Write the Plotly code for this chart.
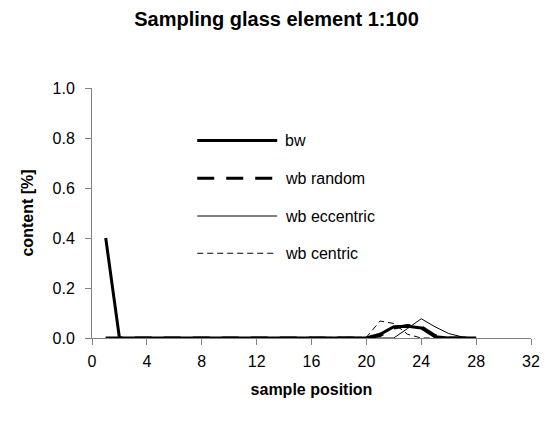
import plotly.graph_objects as go

# sample positions along the glass element
positions = list(range(1, 29))

bw = [0.4, 0.0, 0.0, 0.0, 0.0, 0.0, 0.0, 0.0, 0.0, 0.0,
      0.0, 0.0, 0.0, 0.0, 0.0, 0.0, 0.0, 0.0, 0.0, 0.0,
      0.015, 0.045, 0.047, 0.04, 0.005, 0.0, 0.0, 0.0]
wb_random = [0.0, 0.0, 0.0, 0.0, 0.0, 0.0, 0.0, 0.0, 0.0, 0.0,
             0.0, 0.0, 0.0, 0.0, 0.0, 0.0, 0.0, 0.0, 0.0, 0.0,
             0.01, 0.04, 0.05, 0.045, 0.01, 0.0, 0.0, 0.0]
wb_eccentric = [0.0, 0.0, 0.0, 0.0, 0.0, 0.0, 0.0, 0.0, 0.0, 0.0,
                0.0, 0.0, 0.0, 0.0, 0.0, 0.0, 0.0, 0.0, 0.0, 0.0,
                0.0, 0.0, 0.038, 0.077, 0.045, 0.018, 0.004, 0.0]
wb_centric = [0.0, 0.0, 0.0, 0.0, 0.0, 0.0, 0.0, 0.0, 0.0, 0.0,
              0.0, 0.0, 0.0, 0.0, 0.0, 0.0, 0.0, 0.0, 0.0, 0.003,
              0.068, 0.058, 0.015, 0.0, 0.0, 0.0, 0.0, 0.0]

series_names = ["bw", "wb random", "wb eccentric", "wb centric"]
series_values = [bw, wb_random, wb_eccentric, wb_centric]
series_styles = [
    dict(width=3, dash="solid"),
    dict(width=3, dash="17px,12px"),
    dict(width=1, dash="solid"),
    dict(width=1, dash="6px,4px"),
]

x_ticks = list(range(0, 33, 4))
y_ticks = [0.0, 0.2, 0.4, 0.6, 0.8, 1.0]

FONT = "Liberation Sans, Arial, sans-serif"

fig = go.Figure()
for name, vals, style in zip(series_names, series_values, series_styles):
    fig.add_trace(go.Scatter(
        x=positions, y=vals, name=name, mode="lines",
        line=dict(color="black", **style),
        showlegend=False,
    ))

# legend drawn inside the plot area with long line samples
legend_x0, legend_x1, legend_text_x = 7.67, 13.5, 13.9
legend_rows = [0.79, 0.639, 0.488, 0.339]
for name, style, yy in zip(series_names, series_styles, legend_rows):
    fig.add_shape(type="line", xref="x", yref="y",
                  x0=legend_x0, x1=legend_x1, y0=yy, y1=yy,
                  line=dict(color="black", **style))
    fig.add_annotation(x=legend_text_x, y=yy, xref="x", yref="y",
                       text=name, showarrow=False, xanchor="left",
                       yanchor="middle",
                       font=dict(family=FONT, size=16, color="black"))

fig.update_layout(
    width=553, height=423,
    margin=dict(l=91.5, r=22.4, t=88, b=85),
    paper_bgcolor="white", plot_bgcolor="white",
    title=dict(text="<b>Sampling glass element 1:100</b>",
               x=0.5, xanchor="center", y=1 - 19 / 423, yanchor="middle",
               font=dict(family=FONT, size=20, color="black")),
    font=dict(family=FONT, size=16, color="black"),
)
fig.update_xaxes(
    range=[0, 32], tickvals=x_ticks, ticktext=[str(t) for t in x_ticks],
    showgrid=False, zeroline=False, showline=True, linecolor="#808080",
    linewidth=1, ticks="outside", ticklen=6, tickcolor="#808080",
    ticklabelstandoff=3,
    title=dict(text="<b>sample position</b>", standoff=14,
               font=dict(family=FONT, size=16)),
)
fig.update_yaxes(
    range=[0, 1], tickvals=y_ticks, ticktext=[f"{t:.1f}" for t in y_ticks],
    showgrid=False, zeroline=False, showline=True, linecolor="#808080",
    linewidth=1, ticks="outside", ticklen=6, tickcolor="#808080",
    ticklabelstandoff=7,
    title=dict(text="<b>content [%]</b>", standoff=14,
               font=dict(family=FONT, size=16)),
)

fig.write_html("out.html")
